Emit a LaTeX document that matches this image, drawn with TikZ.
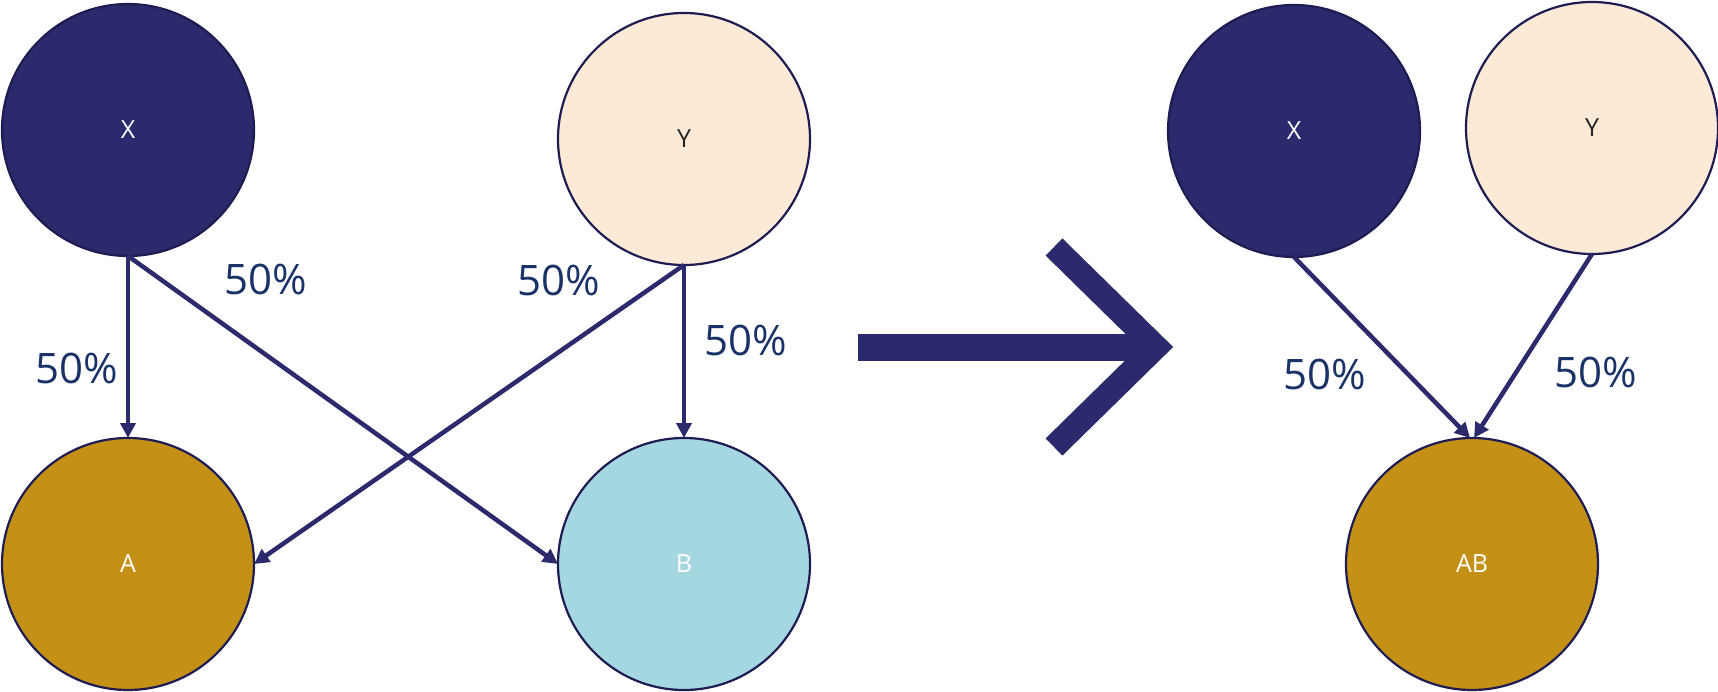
\documentclass[tikz,border=0pt]{standalone}
\usepackage{fontspec}
\setmainfont{Open Sans}
\usetikzlibrary{arrows.meta}
\definecolor{ink}{RGB}{42,42,108}
\definecolor{rim}{RGB}{30,28,82}
\definecolor{pct}{RGB}{27,50,104}
\definecolor{cream}{RGB}{252,233,214}
\definecolor{gold}{RGB}{196,145,22}
\definecolor{sky}{RGB}{164,215,223}

\begin{document}
\begin{tikzpicture}[x=1pt, y=-1pt,
		ball/.style={circle, draw=rim, line width=2.2pt, minimum size=252pt, inner sep=0pt, outer sep=0pt, font=\fontsize{25}{30}\selectfont},
		link/.style={draw=ink, line width=4.5pt, -{Triangle[length=15pt,width=15pt]}},
		pcent/.style={text=pct, font=\fontsize{42}{50}\selectfont}]
		\useasboundingbox (0,0) rectangle (1718,692);

		% before
		\draw (128,130) node[ball, fill=ink, text=white] (x1) {X}
		(684,139) node[ball, fill=cream, text=black!85] (y1) {Y}
		(128,564) node[ball, fill=gold, text=white] (a) {A}
		(684,564) node[ball, fill=sky, text=white] (b) {B};

		\draw[link] (x1.south) -- (a.north);
		\draw[link] (x1.south) -- (b.west);
		\draw[link] (y1.south) -- (a.east);
		\draw[link] (y1.south) -- (b.north);

		\node[pcent] (p1) at (77,368) {50\%};
		\node[pcent] (p2) at (266,279) {50\%};
		\node[pcent] (p3) at (559,280) {50\%};
		\node[pcent] (p4) at (746,340) {50\%};

		% big arrow
		\fill[ink] (858,334) rectangle (1152,361);
		\draw[ink, line width=24pt, miter limit=4] (1054,247) -- (1156,347) -- (1054,447);

		% after
		\draw (1294,131) node[ball, fill=ink, text=white] (x2) {X}
		(1592,128) node[ball, fill=cream, text=black!85] (y2) {Y}
		(1472,564) node[ball, fill=gold, text=white] (ab) {AB};

		\draw[link] (x2.south) -- ([xshift=-2pt]ab.north);
		\draw[link] (y2.south) -- ([xshift=2pt]ab.north);

		\node[pcent] (p5) at (1325,374) {50\%};
		\node[pcent] (p6) at (1596,372) {50\%};
\end{tikzpicture}
\end{document}
